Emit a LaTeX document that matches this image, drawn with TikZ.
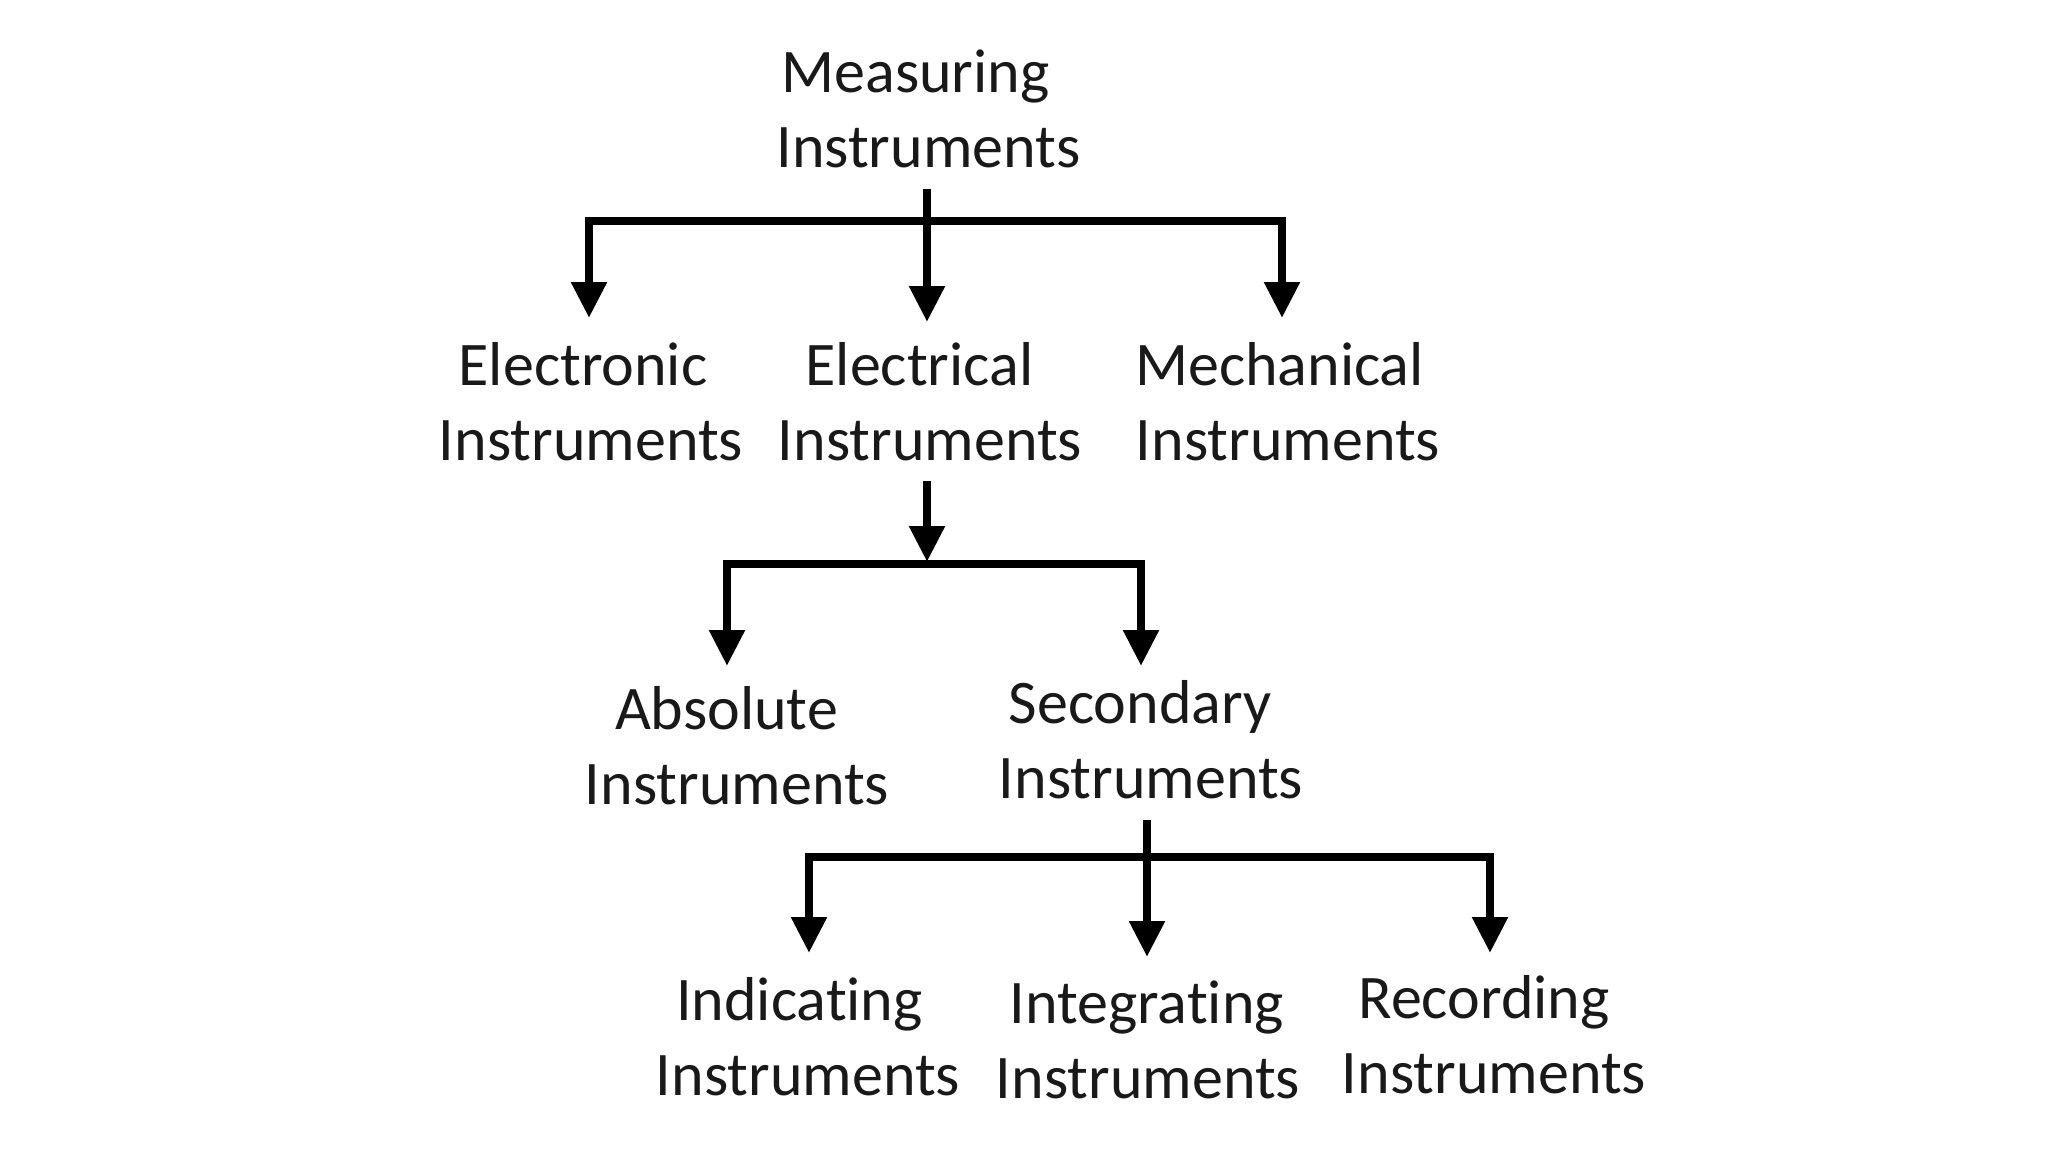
\documentclass[tikz,border=0pt]{standalone}
\usepackage{fontspec}
\setmainfont{Carlito}[Ligatures={NoCommon}]
\usetikzlibrary{arrows.meta}
\newcommand\trailsp[1]{\rule{#1}{0pt}}
\tikzset{
  lbl/.style={align=center, inner sep=0pt, font=\fontsize{31}{37.5}\selectfont, text=black!90},
  conn/.style={line width=4.2pt, line join=miter, line cap=butt},
  arr/.style={conn, -{Triangle[width=17pt,length=18pt]}},
  arrs/.style={conn, {Triangle[width=17pt,length=18pt]}-{Triangle[width=17pt,length=18pt]}}
}
\begin{document}
\begin{tikzpicture}[x=0.5pt,y=-0.5pt]
\fill[white] (0,0) rectangle (2048,1152);
\useasboundingbox (0,0) rectangle (2048,1152);
% nodes
\node[lbl] (mi) at (928.5,109) {Measuring\trailsp{13pt}\\Instruments};
\node[lbl] (eo) at (591,402) {Electronic\trailsp{8pt}\\Instruments};
\node[lbl] (ec) at (930,402) {Electrical\trailsp{10.5pt}\\Instruments};
\node[lbl] (me) at (1288,402) {Mechanical\trailsp{8.5pt}\\Instruments};
\node[lbl] (ab) at (737,745.5) {Absolute\trailsp{10.5pt}\\Instruments};
\node[lbl] (se) at (1151,739.5) {Secondary\trailsp{11pt}\\Instruments};
\node[lbl] (in) at (808,1037) {Indicating\trailsp{8.5pt}\\Instruments};
\node[lbl] (ig) at (1148,1039.5) {Integrating\trailsp{1.3pt}\\Instruments};
\node[lbl] (re) at (1494,1034.5) {Recording\trailsp{10pt}\\Instruments};
% level 1
\coordinate (s1) at (927,189);
\coordinate (t1c) at (927,322);
\coordinate (b1l) at (589,221);
\coordinate (b1r) at (1282,221);
\coordinate (t1l) at (589,318);
\coordinate (t1r) at (1282,318);
\draw[arrs] (t1l) -- (b1l) -- (b1r) -- (t1r);
\draw[arr] (s1) -- (t1c);
% level 2
\coordinate (s2) at (927,481);
\coordinate (t2c) at (927,562);
\coordinate (b2l) at (727,564);
\coordinate (b2r) at (1141,564);
\coordinate (t2l) at (727,666);
\coordinate (t2r) at (1141,666);
\draw[arrs] (t2l) -- (b2l) -- (b2r) -- (t2r);
\draw[arr] (s2) -- (t2c);
% level 3
\coordinate (s3) at (1147,820);
\coordinate (t3c) at (1147,957);
\coordinate (b3l) at (809,857);
\coordinate (b3r) at (1490,857);
\coordinate (t3l) at (809,953);
\coordinate (t3r) at (1490,953);
\draw[arrs] (t3l) -- (b3l) -- (b3r) -- (t3r);
\draw[arr] (s3) -- (t3c);
\end{tikzpicture}
\end{document}
